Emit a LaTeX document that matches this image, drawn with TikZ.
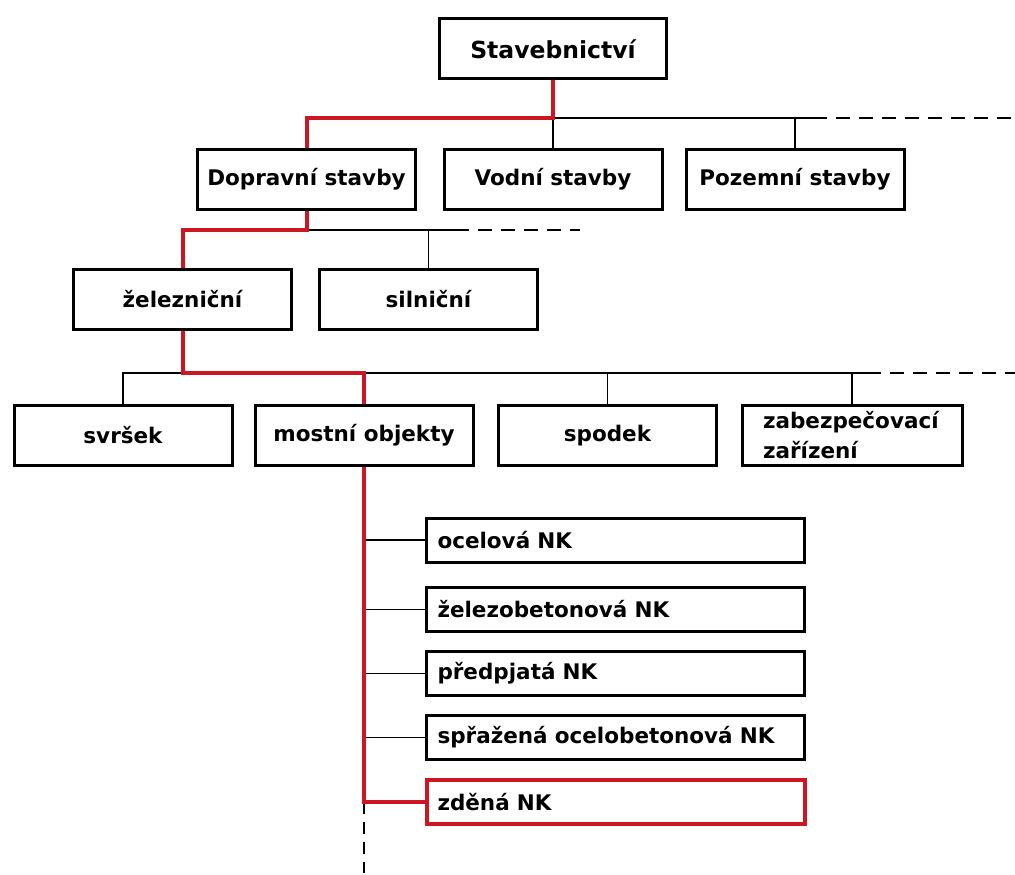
\documentclass[tikz,border=0pt]{standalone}
\usepackage{fontspec}
\setmainfont{DejaVu Sans}
\definecolor{pathred}{RGB}{204,22,34}
\begin{document}
\begin{tikzpicture}[x=1pt,y=-1pt,
  lbl/.style={font=\bfseries\fontsize{21.5}{30}\selectfont},
  box/.style={lbl, draw=black, line width=3pt, fill=white, minimum width=218pt, minimum height=60pt, inner sep=0pt},
  nkbox/.style={lbl, draw=black, line width=3pt, fill=white, minimum height=44pt, text width=356pt, inner xsep=11pt, inner ysep=0pt, align=left},
  conn/.style={line width=1.3pt, black},
  dashconn/.style={conn, dash pattern=on 14pt off 9pt},
  redpath/.style={line width=4pt, pathred, line join=miter}]
\fill[white] (0,0) rectangle (1015,875);
\useasboundingbox (0,0) rectangle (1015,875);

% level 0
\node[box, minimum width=227pt, font=\bfseries\fontsize{23.5}{30}\selectfont] (stav) at (553,49) {Stavebnictví};
% level 1
\node[box] (dop) at (306.5,179) {Dopravní stavby};
\node[box] (vod) at (553,179) {Vodní stavby};
\node[box] (poz) at (795,179) {Pozemní stavby};
% level 2
\node[box] (zel) at (182.5,299) {železniční};
\node[box] (sil) at (428.5,299) {silniční};
% level 3
\node[box] (svr) at (123,435.5) {svršek};
\node[box] (most) at (364,435.5) {mostní objekty};
\node[box] (spo) at (607.5,435.5) {spodek};
\node[box, text width=178pt, align=left, inner xsep=21pt] (zab) at (852,435.5) {zabezpečovací\\zařízení};
% level 4
\node[nkbox] (nk1) at (615.5,540) {ocelová NK};
\node[nkbox] (nk2) at (615.5,609.5) {železobetonová NK};
\node[nkbox] (nk3) at (615.5,673.5) {předpjatá NK};
\node[nkbox] (nk4) at (615.5,737.5) {spřažená ocelobetonová NK};
\node[nkbox, draw=pathred, line width=4pt] (nk5) at (615.5,802) {zděná NK};

% junction coordinates
\coordinate (j1) at (553,118);
\coordinate (e1) at (813,118);
\coordinate (e1end) at (1015,118);
\coordinate (j2) at (306.5,230);
\coordinate (e2) at (455,230);
\coordinate (e2end) at (580,230);
\coordinate (j3) at (182.5,373);
\coordinate (e3) at (867,373);
\coordinate (e3end) at (1015,373);
\coordinate (j4) at (364,802);
\coordinate (e4) at (364,873);

% black connectors
\draw[conn] (j1) -- (vod.north);
\draw[conn] (j1) -- (e1);
\draw[conn] (poz.north) -- (poz.north |- j1);
\draw[dashconn] (e1) -- (e1end);

\draw[conn] (j2) -- (e2);
\draw[conn] (sil.north) -- (sil.north |- j2);
\draw[dashconn] (e2) -- (e2end);

\draw[conn] (svr.north) |- (e3);
\draw[conn] (spo.north) -- (spo.north |- e3);
\draw[conn] (zab.north) -- (zab.north |- e3);
\draw[dashconn] (e3) -- (e3end);

\foreach \n in {nk1,nk2,nk3,nk4}
  \draw[conn] (\n.west) -- (\n.west -| most.south);
\draw[dashconn, dash pattern=on 12pt off 8pt] (j4) -- (e4);

% red path
\draw[redpath] (stav.south) -- (j1) -| (dop.north);
\draw[redpath] (dop.south) -- (j2) -| (zel.north);
\draw[redpath] (zel.south) -- (j3) -| (most.north);
\draw[redpath] (most.south) -- (j4) -- (nk5.west);
\end{tikzpicture}
\end{document}
